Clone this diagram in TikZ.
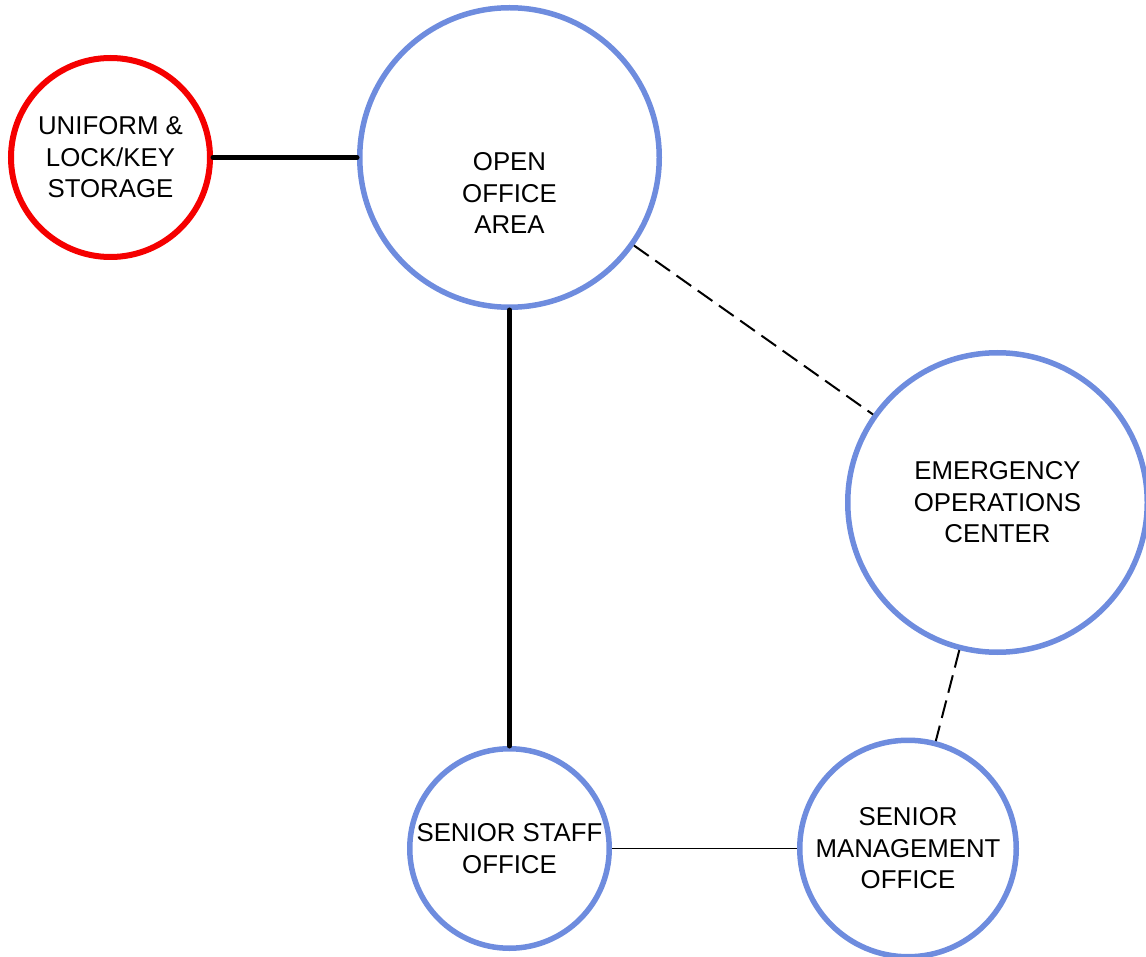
\documentclass[tikz,border=0pt]{standalone}
\usepackage{fontspec}
\setmainfont{Liberation Sans}
\begin{document}
\begin{tikzpicture}[x=1pt,y=-1pt,
  room/.style={circle,draw=roomblue,line width=5.5pt,inner sep=0pt,align=center,
    font=\fontsize{25.8}{31.5}\selectfont},
  storage/.style={room,draw=storagered,line width=6pt},
  label text/.style={inner sep=0pt,align=center,font=\fontsize{25.8}{31.5}\selectfont},
  strong link/.style={line width=5pt,line cap=round},
  weak link/.style={line width=1.6pt},
  dashed link/.style={line width=2pt,dash pattern=on 18pt off 8pt}]
\definecolor{roomblue}{RGB}{110,140,222}
\definecolor{storagered}{RGB}{245,0,0}
\useasboundingbox (0,0) rectangle (1146,957);

% rooms
\node[storage,minimum size=199pt] (uni) at (110.5,157.5) {UNIFORM \&\\LOCK/KEY\\STORAGE};
\node[room,minimum size=299.5pt] (oo) at (509.5,157.5) {};
\node[label text] (ootext) at (509.5,193) {OPEN\\OFFICE\\AREA};
\node[room,minimum size=299.5pt] (eoc) at (997.5,502.5) {EMERGENCY\\OPERATIONS\\CENTER};
\node[room,minimum size=199.5pt] (ss) at (509.5,848.5) {SENIOR STAFF\\OFFICE};
\node[room,minimum size=216.5pt] (smo) at (908,848.5) {SENIOR\\MANAGEMENT\\OFFICE};

% adjacencies
\draw[strong link] (uni.east) -- (oo.west);
\draw[strong link] (oo.south) -- (ss.north);
\draw[weak link] (ss.east) -- (smo.west);
\draw[dashed link] (oo) -- (eoc);
\draw[dashed link] (eoc) -- (smo);
\end{tikzpicture}
\end{document}
